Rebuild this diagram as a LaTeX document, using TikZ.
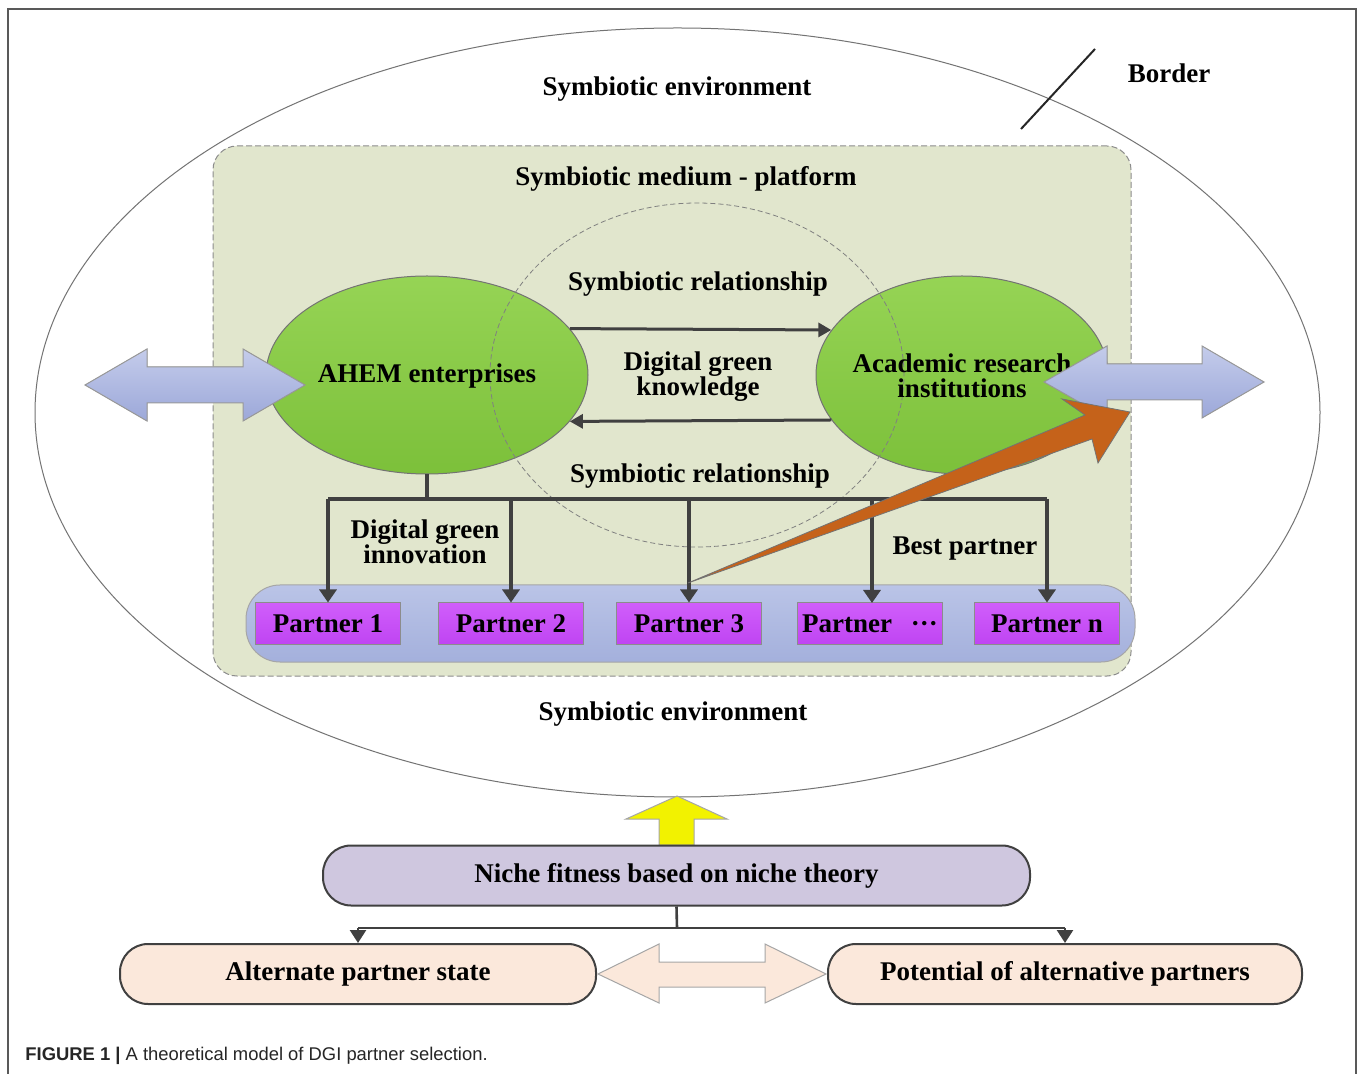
\documentclass[tikz,border=0pt]{standalone}
\usepackage{fontspec}
\setmainfont{Liberation Serif}
\newfontfamily\capfont{Liberation Sans}
\usetikzlibrary{arrows.meta,shapes.geometric}
\definecolor{platfill}{HTML}{E1E6CD}
\definecolor{greentop}{HTML}{96D455}
\definecolor{greenbot}{HTML}{7CC03A}
\definecolor{bluetop}{HTML}{C4CCEB}
\definecolor{bluebot}{HTML}{9CA8D9}
\definecolor{traytop}{HTML}{BAC4E7}
\definecolor{traybot}{HTML}{A4B0DC}
\definecolor{magtop}{HTML}{D05EFB}
\definecolor{magbot}{HTML}{BF44F2}
\definecolor{orangec}{HTML}{C5621A}
\definecolor{yellowc}{HTML}{F2F200}
\definecolor{nichec}{HTML}{CFC7DF}
\definecolor{peachc}{HTML}{FBE8DB}
\definecolor{linec}{HTML}{404040}
\begin{document}
\begin{tikzpicture}[x=0.5pt,y=-0.5pt,
  lbl/.style={font=\fontsize{13.5}{12.5}\selectfont\bfseries, align=center, inner sep=0pt},
  greenell/.style={ellipse, draw=black!55, line width=0.5pt, top color=greentop, bottom color=greenbot, inner sep=0pt, minimum height=99pt},
  partnerbox/.style={rectangle, draw=black!45, line width=0.5pt, top color=magtop, bottom color=magbot, minimum width=72.5pt, minimum height=21pt, inner sep=0pt, font=\fontsize{13.5}{12.5}\selectfont\bfseries},
  treeline/.style={draw=linec, line width=1.6pt},
  treearr/.style={draw=linec, line width=1.6pt, -{Triangle[length=6.5pt,width=8.5pt]}},
  nicheline/.style={draw=linec, line width=1.3pt},
  nichearr/.style={draw=linec, line width=1.3pt, -{Triangle[length=6.5pt,width=8pt]}},
  knowarr/.style={draw=linec, line width=1.5pt, -{Triangle[length=6.5pt,width=7pt]}},
  bluearrow/.style={draw=black!40, line width=0.5pt, top color=bluetop, bottom color=bluebot},
  pillbox/.style={rectangle, rounded corners=14pt, draw=black!75, line width=1pt, inner sep=0pt, minimum height=30pt, font=\fontsize{13.5}{12.5}\selectfont\bfseries}
]
\useasboundingbox (0,0) rectangle (1360,1074);
\fill[white] (0,0) rectangle (1360,1074);
% frame
\draw[black!65, line width=0.6pt] (8,1074) -- (8,9) -- (1356,9) -- (1356,1074);
% environment ellipse
\node[ellipse, draw=black!55, line width=0.5pt, minimum width=642.5pt, minimum height=384.5pt, inner sep=0pt] (env) at (677.5,412.5) {};
\node[lbl] (envtop) at (677,89) {Symbiotic environment};
\node[lbl] (envbot) at (673,714) {Symbiotic environment};
% border marker
\coordinate (bmA) at (1021,129);
\coordinate (bmB) at (1095,49);
\draw[black!85, line width=1pt] (bmA) -- (bmB);
\node[lbl] (border) at (1169,73) {Border};
% platform
\node[rectangle, rounded corners=12pt, fill=platfill, draw=black!45, line width=0.5pt, dash pattern=on 3pt off 1.5pt, minimum width=459pt, minimum height=265pt, inner sep=0pt] (plat) at (672,411) {};
\node[lbl] (platlbl) at (686,179) {Symbiotic medium - platform};
% green ellipses
\node[greenell, minimum width=161pt] (ahem) at (427,375) {};
\node[greenell, minimum width=146pt] (acad) at (962,375) {};
% dashed circle
\node[ellipse, draw=black!50, line width=0.4pt, dash pattern=on 2.5pt off 1.5pt, minimum width=207pt, minimum height=172pt, inner sep=0pt] (rel) at (697,375) {};
\node[lbl] (relt) at (698,284) {Symbiotic relationship};
\node[lbl] (relb) at (700,476) {Symbiotic relationship};
\node[lbl] (know) at (698,377) {Digital green\\knowledge};
% knowledge arrows
\draw[knowarr] (ahem.18) -- (acad.161);
\draw[knowarr] (acad.-161) -- (ahem.-18);
% labels in ellipses
\node[lbl] (ahemlbl) at (427,376) {AHEM enterprises};
\node[lbl] (acadlbl) at (962,376) {Academic research\\institutions};
% blue double arrows
\fill[bluearrow] (85,385) -- (147,349) -- (147,367) -- (243,367) -- (243,349) -- (305,385) -- (243,421) -- (243,403) -- (147,403) -- (147,421) -- cycle;
\fill[bluearrow] (1044,382) -- (1107,346) -- (1107,364) -- (1202,364) -- (1202,346) -- (1264,382) -- (1202,418) -- (1202,400) -- (1107,400) -- (1107,418) -- cycle;
% partner tray
\node[rectangle, rounded corners=17pt, draw=black!35, line width=0.5pt, top color=traytop, bottom color=traybot, minimum width=444.5pt, minimum height=38.5pt, inner sep=0pt] (tray) at (690.5,623.5) {};
% partners
\node[partnerbox] (p1) at (328,624) {Partner 1};
\node[partnerbox] (p2) at (511,624) {Partner 2};
\node[partnerbox] (p3) at (689,624) {Partner 3};
\node[partnerbox] (p4) at (870,624) {Partner\hspace{0.7em}···};
\node[partnerbox] (pn) at (1047,624) {Partner n};
% tree
\coordinate (tb) at (427,499);
\draw[treeline] (ahem.south) -- (tb);
\draw[treeline] (p1.north |- tb) -- (1047,499);
\draw[treearr] (p1.north |- tb) -- (p1.north);
\draw[treearr] (p2.north |- tb) -- (p2.north);
\draw[treearr] (p3.north |- tb) -- (p3.north);
\coordinate (t4) at (872,499);
\coordinate (t4e) at (872,603);
\draw[treearr] (t4) -- (t4e);
\draw[treearr] (pn.north |- tb) -- (pn.north);
\node[lbl] (dgi) at (425,542) {Digital green\\innovation};
\node[lbl] (best) at (965,549) {Best partner};
% orange arrow
\fill[orangec, draw=black!55, line width=0.4pt] (688,583) -- (1085,415) -- (1062,399) -- (1130,412) -- (1098,463) -- (1092,439) -- cycle;
% yellow arrow
\fill[yellowc, draw=black!35, line width=0.5pt] (677,796) -- (727,819) -- (694,819) -- (694,845) -- (659,845) -- (659,819) -- (626,819) -- cycle;
% niche
\node[pillbox, fill=nichec, minimum width=353.5pt] (niche) at (676.5,875.5) {Niche fitness based on niche theory};
\node[pillbox, fill=peachc, minimum width=238pt] (alt) at (358,974) {Alternate partner state};
\node[pillbox, fill=peachc, minimum width=237pt] (pot) at (1065,974) {Potential of alternative partners};
\coordinate (nj) at (677,928);
\draw[nicheline] (niche.south) -- (nj);
\draw[nicheline] (alt.north |- nj) -- (pot.north |- nj);
\draw[nichearr] (alt.north |- nj) -- (alt.north);
\draw[nichearr] (pot.north |- nj) -- (pot.north);
% peach double arrow
\fill[draw=black!35, line width=0.5pt, fill=peachc] (598,974) -- (659,944) -- (659,962) -- (765,962) -- (765,944) -- (826,974) -- (765,1003) -- (765,987) -- (659,987) -- (659,1003) -- cycle;
% caption
\node[anchor=west, inner sep=0pt, font=\capfont\fontsize{9.2}{11}\selectfont, text=black!85] (cap) at (25,1056) {\textbf{FIGURE 1 |} A theoretical model of DGI partner selection.};
\end{tikzpicture}
\end{document}
